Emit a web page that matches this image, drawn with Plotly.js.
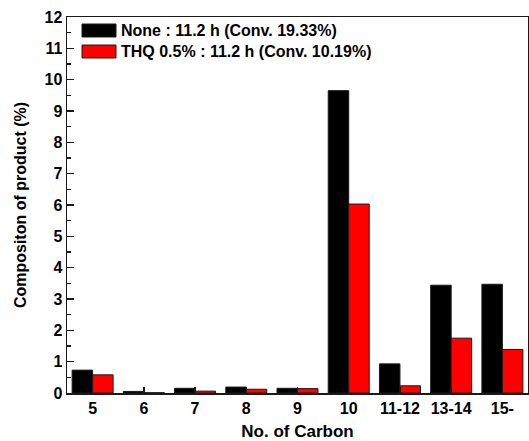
<!DOCTYPE html>
<html>
<head>
<meta charset="utf-8">
<script src="https://cdn.plot.ly/plotly-3.0.1.min.js"></script>
<style>html,body{margin:0;padding:0;background:#fff;}#chart{width:529px;height:441px;}</style>
</head>
<body>
<div id="chart"></div>
<script>
const categories = ["5", "6", "7", "8", "9", "10", "11-12", "13-14", "15-"];
const noneValues = [0.73, 0.05, 0.15, 0.19, 0.15, 9.65, 0.93, 3.44, 3.47];
const thqValues = [0.58, 0.01, 0.06, 0.12, 0.14, 6.03, 0.23, 1.75, 1.39];
const seriesNames = ["None : 11.2 h (Conv. 19.33%)", "THQ 0.5% : 11.2 h (Conv. 10.19%)"];
const seriesColors = ["#000000", "#ff0000"];
const yTicks = [0,1,2,3,4,5,6,7,8,9,10,11,12];

const FONT = "Arial, 'Liberation Sans', sans-serif";
const traces = [noneValues, thqValues].map((vals, i) => ({
  type: "bar",
  x: categories,
  y: vals,
  name: seriesNames[i],
  marker: {color: seriesColors[i], line: {color: "#1a1a1a", width: 1}},
  showlegend: false
}));

const shapes = [];
const annotations = [];
const swatchTop = [24, 45];
seriesNames.forEach((n, i) => {
  shapes.push({type: "rect", xref: "paper", yref: "paper",
    x0: (82-67)/461, x1: (116-67)/461,
    y0: (393-swatchTop[i]-13)/376, y1: (393-swatchTop[i])/376,
    fillcolor: seriesColors[i], line: {color: "#1a1a1a", width: 1}});
  annotations.push({xref: "paper", yref: "paper", x: (119-67)/461, y: (393-swatchTop[i]-6.5)/376,
    xanchor: "left", yanchor: "middle", showarrow: false, text: "<b>" + n + "</b>",
    font: {family: FONT, size: 16, color: "#000"}});
});

const layout = {
  width: 529, height: 441,
  margin: {l: 67, r: 1, t: 17, b: 48},
  paper_bgcolor: "#fff", plot_bgcolor: "#fff",
  barmode: "group", bargap: 0.2, bargroupgap: 0,
  font: {family: FONT, color: "#000"},
  xaxis: {
    type: "category", showline: true, mirror: true, linecolor: "#1a1a1a", linewidth: 1.5,
    tickvals: categories, ticktext: categories.map(c => "<b>" + c + "</b>"),
    ticks: "inside", ticklen: 6, tickcolor: "#1a1a1a", tickwidth: 1.5,
    tickfont: {family: FONT, size: 16, color: "#000"},
    title: {text: "<b>No. of Carbon</b>", font: {family: FONT, size: 17, color: "#000"}, standoff: 10},
    showgrid: false, zeroline: false
  },
  yaxis: {
    range: [0, 12], tickvals: yTicks, ticktext: yTicks.map(v => "<b>" + v + "</b>"),
    showline: true, mirror: true, linecolor: "#1a1a1a", linewidth: 1.5,
    ticks: "inside", ticklen: 7, tickcolor: "#1a1a1a", tickwidth: 1.5,
    minor: {dtick: 0.5, ticks: "inside", ticklen: 4, tickcolor: "#1a1a1a", tickwidth: 1.5, showgrid: false},
    tickfont: {family: FONT, size: 16, color: "#000"},
    title: {text: "<b>Compositon of product (%)</b>", font: {family: FONT, size: 16, color: "#000"}, standoff: 14},
    showgrid: false, zeroline: false
  },
  shapes: shapes,
  annotations: annotations
};

Plotly.newPlot("chart", traces, layout, {displayModeBar: false, staticPlot: true});
</script>
</body>
</html>
